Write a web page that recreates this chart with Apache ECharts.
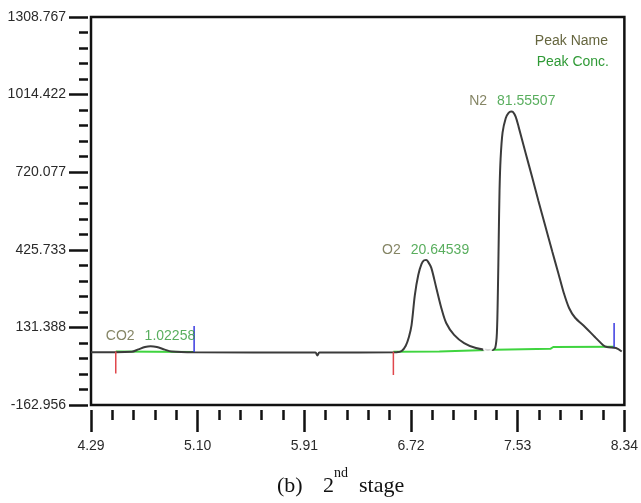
<!DOCTYPE html>
<html>
<head>
<meta charset="utf-8">
<script src="https://cdn.jsdelivr.net/npm/echarts@6/dist/echarts.min.js"></script>
<style>html,body{margin:0;padding:0;background:#fff}#c{width:641px;height:503px}</style>
</head>
<body>
<div id="c"></div>
<script>
// ---- data ----
const xMajorTicks = [4.29, 5.10, 5.91, 6.72, 7.53, 8.34];
const yMajorTicks = [-162.956, 131.388, 425.733, 720.077, 1014.422, 1308.767];

const traceTime = [4.29, 4.600, 4.650, 4.700, 4.742, 4.790, 4.850, 4.902, 5.073, 5.994, 6.009, 6.024, 6.611, 6.649, 6.680, 6.704, 6.724, 6.749, 6.775, 6.800, 6.820, 6.835, 6.850, 6.874, 6.912, 6.950, 6.987, 7.047, 7.123, 7.213, 7.303, 7.341, 7.360, 7.372, 7.380, 7.386, 7.392, 7.400, 7.415, 7.439, 7.461, 7.480, 7.495, 7.515, 7.537, 7.589, 7.642, 7.687, 7.740, 7.793, 7.838, 7.880, 7.920, 7.966, 8.041, 8.116, 8.177, 8.207, 8.276, 8.320];
const traceSignal = [37, 39, 48, 57, 60, 57, 47, 40, 37, 36, 25, 36, 37, 42, 62, 95, 140, 254, 330, 372, 386, 387, 380, 357, 281, 205, 148, 103, 72, 53, 46, 46, 55, 110, 280, 470, 650, 770, 870, 925, 945, 950, 948, 930, 892, 795, 697, 612, 515, 418, 338, 262, 205, 168, 133, 95, 65, 57, 53, 40];

const baseCO2Time = [4.478, 5.073];
const baseCO2Signal = [40, 38];
const baseN2Time = [6.586, 6.935, 6.950, 7.360, 7.778, 7.800, 8.262];
const baseN2Signal = [39, 40, 46, 47, 50, 57, 58];

const peakNames = ['CO2', 'O2', 'N2'];
const peakConc = ['1.02258', '20.64539', '81.55507'];
const peakTime = [4.742, 6.831, 7.489];
const peakSignal = [60, 387, 950];

const startMarkTime = [4.478, 6.586];
const startMarkTop = [40, 39];
const startMarkBottom = [-43, -49];
const endMarkTime = [5.073, 8.262];
const endMarkTop = [137, 148];
const endMarkBottom = [38, 57];
const valleyTime = [7.303];
const valleySignal = [53];

// ---- build ----
function minorOf(major) {
  const out = [];
  for (let i = 0; i < major.length - 1; i++) {
    const step = (major[i + 1] - major[i]) / 5;
    for (let k = 1; k < 5; k++) out.push(major[i] + k * step);
  }
  return out;
}
const zip = (a, b) => a.map((v, i) => [v, b[i]]);

const olive = '#66663f';
const green = '#2f9a36';
const lineGreen = '#3fd43f';
const tickColor = '#111';
const labelColor = '#2a2a2a';
const xMin = xMajorTicks[0], xMax = xMajorTicks[xMajorTicks.length - 1];
const yMin = yMajorTicks[0], yMax = yMajorTicks[yMajorTicks.length - 1];

const series = [];
series.push({
  type: 'line', data: zip(traceTime, traceSignal), symbol: 'none',
  smooth: 0.3,
  lineStyle: { color: '#3b3b3b', width: 2 }, z: 3, silent: true
});
series.push({
  type: 'line', data: zip(baseCO2Time, baseCO2Signal), symbol: 'none',
  lineStyle: { color: lineGreen, width: 2 }, z: 2
});
series.push({
  type: 'line', data: zip(baseN2Time, baseN2Signal), symbol: 'none',
  lineStyle: { color: lineGreen, width: 2 }, z: 2
});
startMarkTime.forEach((t, i) => series.push({
  type: 'line', data: [[t, startMarkTop[i]], [t, startMarkBottom[i]]], symbol: 'none',
  lineStyle: { color: '#e0474c', width: 1.5 }, z: 4
}));
endMarkTime.forEach((t, i) => series.push({
  type: 'line', data: [[t, endMarkTop[i]], [t, endMarkBottom[i]]], symbol: 'none',
  lineStyle: { color: '#3a3ae0', width: 1.5 }, z: 4
}));
series.push({
  type: 'scatter', data: zip(valleyTime, valleySignal), symbol: 'emptyCircle', symbolSize: 8,
  itemStyle: { color: '#fff', borderColor: '#3a3ae0', borderWidth: 1.5 }, z: 5
});
series.push({
  type: 'scatter', symbolSize: 0, z: 6,
  data: peakTime.map((t, i) => [t, peakSignal[i]]),
  label: {
    show: true, position: 'top', distance: 3,
    formatter: p => '{n|' + peakNames[p.dataIndex] + '}   {c|' + peakConc[p.dataIndex] + '}',
    rich: {
      n: { color: olive, fontSize: 14, fontFamily: 'Liberation Sans' },
      c: { color: green, fontSize: 14, fontFamily: 'Liberation Sans' }
    }
  }
});

const baseAxis = {
  type: 'value', min: xMin, max: xMax, position: 'bottom', offset: 5,
  axisLine: { show: false, onZero: false }, splitLine: { show: false }
};
const baseYAxis = {
  type: 'value', min: yMin, max: yMax, position: 'left', offset: 3,
  axisLine: { show: false, onZero: false }, splitLine: { show: false }
};

const option = {
  animation: false,
  backgroundColor: '#ffffff',
  grid: { left: 91, right: 11, top: 17, bottom: 98, show: true, borderColor: '#111', borderWidth: 2.5, backgroundColor: 'transparent' },
  xAxis: [
    Object.assign({}, baseAxis, {
      axisTick: { show: true, length: 22, customValues: xMajorTicks, lineStyle: { color: tickColor, width: 2.5 } },
      axisLabel: { show: true, customValues: xMajorTicks, margin: 29, formatter: v => v.toFixed(2),
        color: labelColor, fontSize: 14, fontFamily: 'Liberation Sans' }
    }),
    Object.assign({}, baseAxis, {
      axisTick: { show: true, length: 10, customValues: minorOf(xMajorTicks), lineStyle: { color: tickColor, width: 2.5 } },
      axisLabel: { show: false }
    })
  ],
  yAxis: [
    Object.assign({}, baseYAxis, {
      axisTick: { show: true, length: 19, customValues: yMajorTicks, lineStyle: { color: tickColor, width: 2.5 } },
      axisLabel: { show: true, customValues: yMajorTicks, margin: 22, formatter: v => v.toFixed(3),
        color: labelColor, fontSize: 14, fontFamily: 'Liberation Sans' }
    }),
    Object.assign({}, baseYAxis, {
      axisTick: { show: true, length: 9, customValues: minorOf(yMajorTicks), lineStyle: { color: tickColor, width: 2.5 } },
      axisLabel: { show: false }
    })
  ],
  series: series,
  graphic: [
    { type: 'text', x: 608, y: 41, style: { text: 'Peak Name', fill: olive, font: '14px "Liberation Sans"', textAlign: 'right', textVerticalAlign: 'middle' } },
    { type: 'text', x: 609, y: 62, style: { text: 'Peak Conc.', fill: green, font: '14px "Liberation Sans"', textAlign: 'right', textVerticalAlign: 'middle' } },
    { type: 'text', x: 277, y: 486, style: { text: '(b)', fill: '#111', font: '22px "Liberation Serif"', textVerticalAlign: 'middle' } },
    { type: 'text', x: 323, y: 486, style: { text: '2', fill: '#111', font: '22px "Liberation Serif"', textVerticalAlign: 'middle' } },
    { type: 'text', x: 334, y: 473, style: { text: 'nd', fill: '#111', font: '14px "Liberation Serif"', textVerticalAlign: 'middle' } },
    { type: 'text', x: 359, y: 486, style: { text: 'stage', fill: '#111', font: '22px "Liberation Serif"', textVerticalAlign: 'middle' } }
  ]
};

const chart = echarts.init(document.getElementById('c'), null, { renderer: 'canvas' });
chart.setOption(option);
</script>
</body>
</html>
